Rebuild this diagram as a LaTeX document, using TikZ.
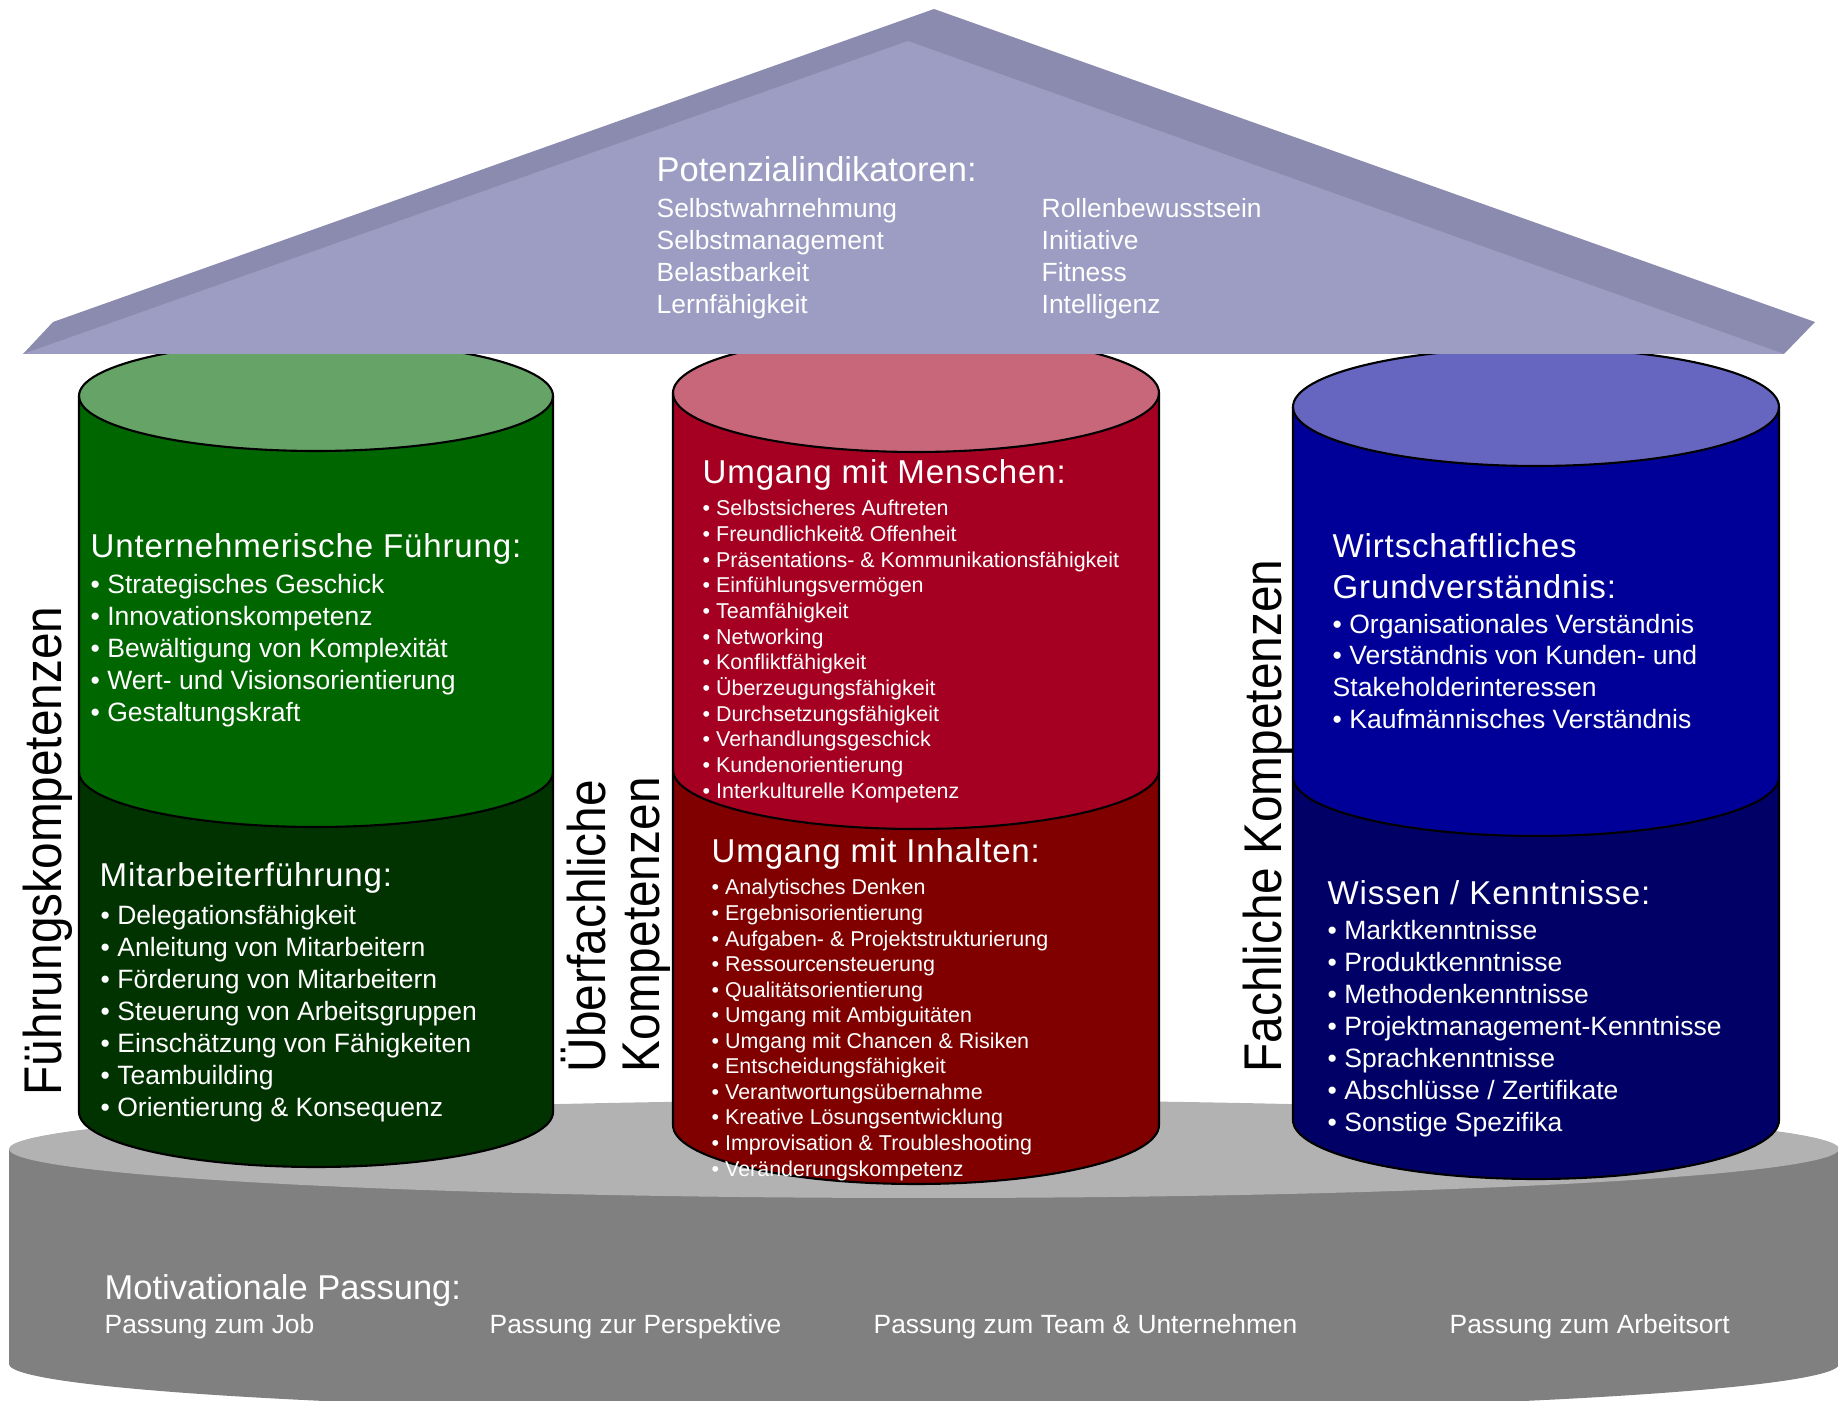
\documentclass[tikz,border=0pt]{standalone}
\usepackage{fontspec}
\setmainfont{Liberation Sans}
\newfontfamily\headfont[LetterSpace=2.5]{Liberation Sans}

% roof and base
\definecolor{roofback}{HTML}{8B8BB0}
\definecolor{rooffront}{HTML}{9D9DC4}
\definecolor{basetop}{HTML}{B2B2B2}
\definecolor{baseside}{HTML}{808080}
% pillars
\definecolor{greentop}{HTML}{66A366}
\definecolor{greenup}{HTML}{006600}
\definecolor{greenlow}{HTML}{003300}
\definecolor{redtop}{HTML}{C8677A}
\definecolor{redup}{HTML}{A50021}
\definecolor{redlow}{HTML}{800000}
\definecolor{bluetop}{HTML}{6666C0}
\definecolor{blueup}{HTML}{000099}
\definecolor{bluelow}{HTML}{000066}

\begin{document}
\begin{tikzpicture}[
  x=0.01cm, y=0.01cm,
  cyl/.style      = {draw=black, line width=0.6pt},
  head/.style     = {anchor=base west, inner sep=0pt, text=white,
                     font=\headfont\fontsize{9.4}{11}\selectfont},
  item/.style     = {anchor=base west, inner sep=0pt, text=white,
                     font=\fontsize{7.54}{9}\selectfont},
  small/.style    = {item, font=\fontsize{6.1}{7}\selectfont},
  roofhead/.style = {item, font=\fontsize{9.8}{11}\selectfont},
  rooftxt/.style  = {item, font=\fontsize{7.5}{9}\selectfont},
  side/.style     = {anchor=base west, inner sep=0pt, rotate=90,
                     font=\fontsize{15.1}{17}\selectfont}
]
  \useasboundingbox (0,0) rectangle (1838,-1401);
  \clip (0,0) rectangle (1838,-1401);

  % Base disc
  \fill[baseside] (9,-1149) -- (9,-1364)
      arc[start angle=180, end angle=360, x radius=915, y radius=49]
      -- (1839,-1149) -- cycle;
  \fill[basetop] (924,-1149) ellipse[x radius=915, y radius=49];

  % Pillars: centre, radii, top / middle / bottom level, colours
  \foreach \cx/\rx/\ry/\t/\m/\b/\ctop/\cup/\clow in {
      316/237/55/396/772/1112/greentop/greenup/greenlow,
      916/243/59/393/770/1125/redtop/redup/redlow,
      1536/243/59/407/777/1120/bluetop/blueup/bluelow}{
    \fill[\clow] (\cx-\rx,-\m) -- (\cx-\rx,-\b)
        arc[start angle=180, end angle=360, x radius=\rx, y radius=\ry]
        -- (\cx+\rx,-\m) -- cycle;
    \fill[\cup] (\cx-\rx,-\t) -- (\cx-\rx,-\m)
        arc[start angle=180, end angle=360, x radius=\rx, y radius=\ry]
        -- (\cx+\rx,-\t) -- cycle;
    \fill[\ctop] (\cx,-\t) ellipse[x radius=\rx, y radius=\ry];
    \draw[cyl] (\cx-\rx,-\t) -- (\cx-\rx,-\b)
        arc[start angle=180, end angle=360, x radius=\rx, y radius=\ry]
        -- (\cx+\rx,-\t);
    \draw[cyl] (\cx-\rx,-\m)
        arc[start angle=180, end angle=360, x radius=\rx, y radius=\ry];
    \draw[cyl] (\cx,-\t) ellipse[x radius=\rx, y radius=\ry];
  }

  % Roof
  \fill[roofback] (23,-354) -- (53,-322) -- (934,-9) -- (1815,-322)
      -- (1784,-354) -- cycle;
  \fill[rooffront] (23,-354) -- (908,-41) -- (1784,-354) -- cycle;

  \node[roofhead] (potenzial) at (656,-182) {Potenzialindikatoren:};
  \foreach \txt [count=\i from 0] in {Selbstwahrnehmung, Selbstmanagement,
      Belastbarkeit, Lernfähigkeit}
    \node[rooftxt] (potl\i) at (656,-218-32*\i) {\txt};
  \foreach \txt [count=\i from 0] in {Rollenbewusstsein, Initiative,
      Fitness, Intelligenz}
    \node[rooftxt] (potr\i) at (1041,-218-32*\i) {\txt};

  % Green pillar
  \node[head] (unternehm) at (90,-558) {Unternehmerische Führung:};
  \foreach \txt [count=\i from 0] in {Strategisches Geschick,
      Innovationskompetenz, Bewältigung von Komplexität,
      Wert- und Visionsorientierung, Gestaltungskraft}
    \node[item] (unt\i) at (90,-594-32*\i) {• \txt};

  \node[head] (mitarb) at (99,-887) {Mitarbeiterführung:};
  \foreach \txt [count=\i from 0] in {Delegationsfähigkeit,
      Anleitung von Mitarbeitern, Förderung von Mitarbeitern,
      Steuerung von Arbeitsgruppen, Einschätzung von Fähigkeiten,
      Teambuilding, Orientierung \& Konsequenz}
    \node[item] (mit\i) at (100,-925-32*\i) {• \txt};

  % Red pillar
  \node[head] (menschen) at (702,-484) {Umgang mit Menschen:};
  \foreach \txt [count=\i from 0] in {Selbstsicheres Auftreten,
      Freundlichkeit\& Offenheit,
      Präsentations- \& Kommunikationsfähigkeit,
      Einfühlungsvermögen, Teamfähigkeit, Networking,
      Konfliktfähigkeit, Überzeugungsfähigkeit, Durchsetzungsfähigkeit,
      Verhandlungsgeschick, Kundenorientierung, Interkulturelle Kompetenz}
    \node[small] (men\i) at (702,-516-25.65*\i) {• \txt};

  \node[head] (inhalte) at (711,-863) {Umgang mit Inhalten:};
  \foreach \txt [count=\i from 0] in {Analytisches Denken,
      Ergebnisorientierung, Aufgaben- \& Projektstrukturierung,
      Ressourcensteuerung, Qualitätsorientierung,
      Umgang mit Ambiguitäten, Umgang mit Chancen \& Risiken,
      Entscheidungsfähigkeit, Verantwortungsübernahme,
      Kreative Lösungsentwicklung, Improvisation \& Troubleshooting,
      Veränderungskompetenz}
    \node[small] (inh\i) at (711,-895-25.55*\i) {• \txt};

  % Blue pillar
  \node[head] (wirtsch1) at (1332,-558) {Wirtschaftliches};
  \node[head] (wirtsch2) at (1332,-599) {Grundverständnis:};
  \node[item] (wir0) at (1332,-634) {• Organisationales Verständnis};
  \node[item] (wir1) at (1332,-665) {• Verständnis von Kunden- und};
  \node[item] (wir2) at (1332,-697) {Stakeholderinteressen};
  \node[item] (wir3) at (1332,-729) {• Kaufmännisches Verständnis};

  \node[head] (wissen) at (1327,-905) {Wissen / Kenntnisse:};
  \foreach \txt [count=\i from 0] in {Marktkenntnisse, Produktkenntnisse,
      Methodenkenntnisse, Projektmanagement-Kenntnisse, Sprachkenntnisse,
      Abschlüsse / Zertifikate, Sonstige Spezifika}
    \node[item] (wis\i) at (1327,-940-32*\i) {• \txt};

  % Pillar captions
  \node[side] (fuehrung) at (61,-1096) {\scalebox{0.9}[1]{Führungskompetenzen}};
  \node[side] (ueberf) at (605,-1073) {\scalebox{0.9}[1]{Überfachliche}};
  \node[side] (ueberk) at (659,-1073) {\scalebox{0.9}[1]{Kompetenzen}};
  \node[side] (fachlich) at (1281,-1073) {\scalebox{0.9}[1]{Fachliche Kompetenzen}};

  % Base texts
  \node[roofhead] (motiv) at (104,-1300) {Motivationale Passung:};
  \node[rooftxt] (pjob) at (104,-1334) {Passung zum Job};
  \node[rooftxt] (pper) at (489,-1334) {Passung zur Perspektive};
  \node[rooftxt] (pteam) at (873,-1334) {Passung zum Team \& Unternehmen};
  \node[rooftxt] (port) at (1449,-1334) {Passung zum Arbeitsort};

\end{tikzpicture}
\end{document}
